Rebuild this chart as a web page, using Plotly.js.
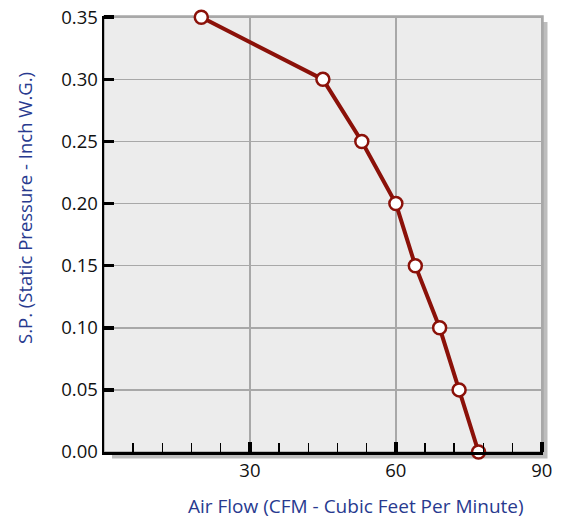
<!DOCTYPE html>
<html>
<head>
<meta charset="utf-8">
<script src="https://cdn.plot.ly/plotly-3.0.1.min.js"></script>
<style>html,body{margin:0;padding:0;background:#fff;}#chart{width:561px;height:519px;}</style>
</head>
<body>
<div id="chart"></div>
<script>
var airFlow = [20, 45, 53, 60, 64, 69, 73, 77];
var staticPressure = [0.35, 0.30, 0.25, 0.20, 0.15, 0.10, 0.05, 0.00];
var xTickVals = [30, 60, 90];
var yTickVals = [0, 0.05, 0.10, 0.15, 0.20, 0.25, 0.30, 0.35];
var xTitle = 'Air Flow (CFM - Cubic Feet Per Minute)';
var yTitle = 'S.P. (Static Pressure - Inch W.G.)';

var trace = {
  x: airFlow, y: staticPressure, type: 'scatter', mode: 'lines+markers',
  line: {color: '#8b1109', width: 4},
  marker: {size: 13, color: '#ffffff', line: {color: '#8b1109', width: 2.5}},
  cliponaxis: false, hoverinfo: 'none'
};
var font = {family: 'Open Sans, sans-serif', size: 18.5, color: '#111'};
var layout = {
  width: 561, height: 519,
  margin: {l: 104, r: 18, t: 16, b: 67},
  paper_bgcolor: '#ffffff', plot_bgcolor: 'rgba(0,0,0,0)',
  font: font, showlegend: false,
  xaxis: {
    range: [0, 90.25], tickmode: 'array', tickvals: xTickVals, ticktext: xTickVals.map(String),
    ticks: 'inside', ticklen: 10, tickwidth: 3.5, tickcolor: '#000',
    showline: true, linecolor: '#000', linewidth: 2.5,
    showgrid: true, gridcolor: '#a8a8a8', gridwidth: 1.5,
    zeroline: false,
    minor: {tickmode: 'linear', dtick: 6, tick0: 0, ticks: 'inside', ticklen: 9, tickwidth: 1.5, tickcolor: '#000', showgrid: false},
    fixedrange: true
  },
  yaxis: {
    range: [0, 0.351], tickmode: 'array', tickvals: yTickVals, ticktext: yTickVals.map(function(v){return v.toFixed(2);}),
    ticks: 'inside', ticklen: 10, tickwidth: 3.5, tickcolor: '#000',
    showline: true, linecolor: '#000', linewidth: 2.5,
    showgrid: true, gridcolor: '#a8a8a8', gridwidth: 1.5,
    zeroline: false,
    fixedrange: true
  },
  shapes: [
    {type: 'rect', xref: 'paper', yref: 'paper', layer: 'below',
     x0: 8/439, x1: 1 + 4.5/439, y0: -6.5/436, y1: 1 - 6/436,
     fillcolor: '#bdbdbd', line: {width: 0}},
    {type: 'rect', xref: 'paper', yref: 'paper', layer: 'below',
     x0: 0, x1: 1, y0: 0, y1: 1,
     fillcolor: '#ececec', line: {color: '#a8a8a8', width: 1.5}}
  ],
  annotations: [
    {text: xTitle, xref: 'paper', yref: 'paper', x: (355.5-104)/439, y: -(506-452)/436,
     xanchor: 'center', yanchor: 'middle', showarrow: false,
     font: {family: 'Open Sans, sans-serif', size: 19, color: '#283a8f'}},
    {text: yTitle, xref: 'paper', yref: 'paper', x: -(104-24)/439, y: (452-208)/436,
     xanchor: 'center', yanchor: 'middle', showarrow: false, textangle: -90,
     font: {family: 'Open Sans, sans-serif', size: 18.5, color: '#283a8f'}}
  ]
};
Plotly.newPlot('chart', [trace], layout, {displayModeBar: false, staticPlot: true});
</script>
</body>
</html>
